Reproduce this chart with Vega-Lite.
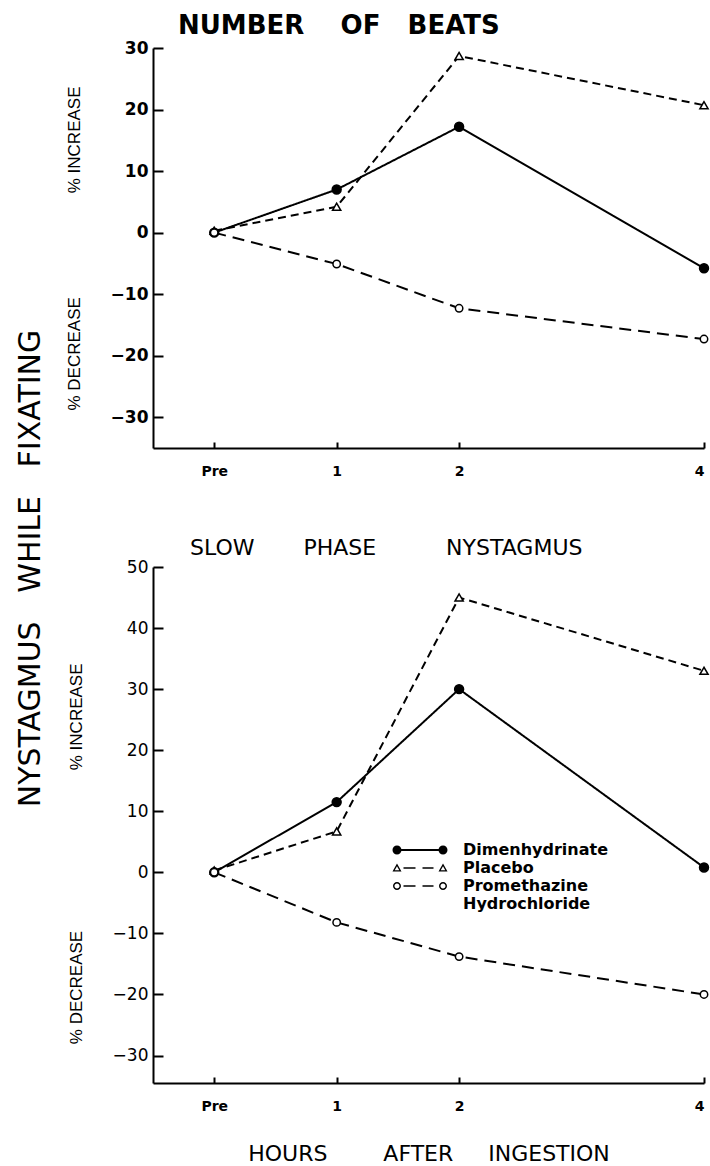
{
  "$schema": "https://vega.github.io/schema/vega-lite/v6.json",
  "background": "white",
  "padding": {"left": 16, "top": 13, "right": 2, "bottom": 2},
  "title": {"text": "NYSTAGMUS\u00a0\u00a0 WHILE\u00a0\u00a0 FIXATING", "orient": "left", "anchor": "middle", "dx": 20, "fontSize": 30, "font": "DejaVu Sans", "fontWeight": "normal", "offset": 19, "color": "black"},
  "config": {
    "view": {"stroke": null},
    "axis": {"grid": false, "domainColor": "black", "domainWidth": 2, "tickColor": "black", "tickWidth": 2, "labelColor": "black", "titleColor": "black", "labelFont": "DejaVu Sans", "titleFont": "DejaVu Sans"},
    "title": {"color": "black", "font": "DejaVu Sans"}
  },
  "datasets": {
    "beats": [
      {"drug": "Dimenhydrinate", "hour": 0, "pct": 0},
      {"drug": "Dimenhydrinate", "hour": 1, "pct": 7.0},
      {"drug": "Dimenhydrinate", "hour": 2, "pct": 17.2},
      {"drug": "Dimenhydrinate", "hour": 4, "pct": -5.8},
      {"drug": "Placebo", "hour": 0, "pct": 0.3},
      {"drug": "Placebo", "hour": 1, "pct": 4.2},
      {"drug": "Placebo", "hour": 2, "pct": 28.7},
      {"drug": "Placebo", "hour": 4, "pct": 20.7},
      {"drug": "Promethazine Hydrochloride", "hour": 0, "pct": 0},
      {"drug": "Promethazine Hydrochloride", "hour": 1, "pct": -5.1},
      {"drug": "Promethazine Hydrochloride", "hour": 2, "pct": -12.3},
      {"drug": "Promethazine Hydrochloride", "hour": 4, "pct": -17.3}
    ],
    "slow": [
      {"drug": "Dimenhydrinate", "hour": 0, "pct": 0},
      {"drug": "Dimenhydrinate", "hour": 1, "pct": 11.5},
      {"drug": "Dimenhydrinate", "hour": 2, "pct": 30.0},
      {"drug": "Dimenhydrinate", "hour": 4, "pct": 0.8},
      {"drug": "Placebo", "hour": 0, "pct": 0.3},
      {"drug": "Placebo", "hour": 1, "pct": 6.7},
      {"drug": "Placebo", "hour": 2, "pct": 45.0},
      {"drug": "Placebo", "hour": 4, "pct": 33.0},
      {"drug": "Promethazine Hydrochloride", "hour": 0, "pct": 0},
      {"drug": "Promethazine Hydrochloride", "hour": 1, "pct": -8.2},
      {"drug": "Promethazine Hydrochloride", "hour": 2, "pct": -13.8},
      {"drug": "Promethazine Hydrochloride", "hour": 4, "pct": -20.0}
    ]
  },
  "resolve": {"scale": {"x": "independent", "y": "independent", "shape": "independent", "fill": "independent", "strokeDash": "independent", "size": "independent"}},
  "spacing": 59,
  "vconcat": [
    {
      "width": 551,
      "height": 400,
      "data": {"name": "beats"},
      "title": {"text": "NUMBER\u00a0\u00a0\u00a0\u00a0OF\u00a0\u00a0\u00a0BEATS", "anchor": "start", "frame": "group", "dx": 25, "fontSize": 26, "fontWeight": "bold", "offset": 0},
      "encoding": {
        "x": {"field": "hour", "type": "quantitative", "scale": {"domain": [-0.5, 4], "nice": false, "zero": false},
          "axis": {"values": [0, 1, 2, 4], "labelExpr": "datum.value == 0 ? 'Pre' : datum.label", "title": null, "tickSize": -6, "labelPadding": 22, "labelFontSize": 14, "labelFontWeight": "bold"}},
        "y": {"field": "pct", "type": "quantitative", "scale": {"domain": [-35, 30], "nice": false, "zero": false},
          "axis": {"values": [-30, -20, -10, 0, 10, 20, 30], "tickSize": -10, "labelPadding": 15, "labelFontSize": 17, "labelFontWeight": "bold",
            "title": "% DECREASE\u00a0\u00a0\u00a0\u00a0\u00a0\u00a0\u00a0\u00a0\u00a0\u00a0\u00a0\u00a0\u00a0\u00a0\u00a0\u00a0\u00a0\u00a0\u00a0\u00a0\u00a0\u00a0% INCREASE",
            "titleFont": "Liberation Sans", "titleFontSize": 17, "titleFontWeight": "normal", "titlePadding": 27}}
      },
      "layer": [
        {"mark": {"type": "line", "color": "black", "strokeWidth": 2},
          "encoding": {"strokeDash": {"field": "drug", "type": "nominal", "scale": {"domain": ["Dimenhydrinate", "Placebo", "Promethazine Hydrochloride"], "range": [[1, 0], [8, 5], [12, 7]]}, "legend": null}}},
        {"mark": {"type": "point", "stroke": "black", "strokeWidth": 1.5, "opacity": 1},
          "encoding": {
            "shape": {"field": "drug", "type": "nominal", "scale": {"domain": ["Dimenhydrinate", "Placebo", "Promethazine Hydrochloride"], "range": ["circle", "triangle-up", "circle"]}, "legend": null},
            "fill": {"field": "drug", "type": "nominal", "scale": {"domain": ["Dimenhydrinate", "Placebo", "Promethazine Hydrochloride"], "range": ["black", "white", "white"]}, "legend": null},
            "size": {"field": "drug", "type": "nominal", "scale": {"domain": ["Dimenhydrinate", "Placebo", "Promethazine Hydrochloride"], "range": [80, 55, 55]}, "legend": null}
          }}
      ]
    },
    {
      "width": 551,
      "height": 516,
      "data": {"name": "slow"},
      "title": {"text": "SLOW\u00a0\u00a0\u00a0\u00a0\u00a0\u00a0\u00a0PHASE\u00a0\u00a0\u00a0\u00a0\u00a0\u00a0\u00a0\u00a0\u00a0\u00a0NYSTAGMUS", "anchor": "start", "frame": "group", "dx": 37, "fontSize": 22, "fontWeight": "normal", "offset": -2},
      "resolve": {"scale": {"shape": "independent"}},
      "encoding": {
        "x": {"field": "hour", "type": "quantitative", "scale": {"domain": [-0.5, 4], "nice": false, "zero": false},
          "axis": {"values": [0, 1, 2, 4], "labelExpr": "datum.value == 0 ? 'Pre' : datum.label", "title": "HOURS\u00a0\u00a0\u00a0\u00a0\u00a0\u00a0\u00a0\u00a0AFTER\u00a0\u00a0\u00a0\u00a0\u00a0INGESTION", "titleFontSize": 22, "titleFontWeight": "normal", "titlePadding": 30, "tickSize": -6, "labelPadding": 22, "labelFontSize": 14, "labelFontWeight": "bold"}},
        "y": {"field": "pct", "type": "quantitative", "scale": {"domain": [-34.5, 50], "nice": false, "zero": false},
          "axis": {"values": [-30, -20, -10, 0, 10, 20, 30, 40, 50], "tickSize": -10, "labelPadding": 15, "labelFontSize": 17, "labelFontWeight": "normal",
            "title": "% DECREASE\u00a0\u00a0\u00a0\u00a0\u00a0\u00a0\u00a0\u00a0\u00a0\u00a0\u00a0\u00a0\u00a0\u00a0\u00a0\u00a0\u00a0\u00a0\u00a0\u00a0\u00a0\u00a0\u00a0\u00a0\u00a0\u00a0\u00a0\u00a0\u00a0\u00a0\u00a0\u00a0\u00a0\u00a0% INCREASE\u00a0\u00a0\u00a0\u00a0\u00a0\u00a0\u00a0\u00a0\u00a0\u00a0\u00a0\u00a0\u200b",
            "titleFont": "Liberation Sans", "titleFontSize": 17, "titleFontWeight": "normal", "titlePadding": 27}}
      },
      "layer": [
        {"mark": {"type": "line", "color": "black", "strokeWidth": 2},
          "encoding": {"strokeDash": {"field": "drug", "type": "nominal", "scale": {"domain": ["Dimenhydrinate", "Placebo", "Promethazine Hydrochloride"], "range": [[1, 0], [8, 5], [12, 7]]}, "legend": null}}},
        {"mark": {"type": "point", "stroke": "black", "strokeWidth": 1.5, "opacity": 1},
          "encoding": {
            "shape": {"field": "drug", "type": "nominal", "scale": {"domain": ["Dimenhydrinate", "Placebo", "Promethazine Hydrochloride"], "range": ["circle", "triangle-up", "circle"]}, "legend": null},
            "fill": {"field": "drug", "type": "nominal", "scale": {"domain": ["Dimenhydrinate", "Placebo", "Promethazine Hydrochloride"], "range": ["black", "white", "white"]}, "legend": null},
            "size": {"field": "drug", "type": "nominal", "scale": {"domain": ["Dimenhydrinate", "Placebo", "Promethazine Hydrochloride"], "range": [80, 55, 55]}, "legend": null}
          }},
        {"transform": [{"filter": "false"}],
          "mark": {"type": "point", "filled": true, "color": "black", "strokeWidth": 0, "size": 324, "opacity": 1},
          "encoding": {
            "shape": {"field": "drug", "type": "nominal",
              "scale": {"domain": ["Dimenhydrinate", "Placebo", "Promethazine Hydrochloride"],
                "range": [
                  "M-3.056,0A0.5,0.5,0,1,1,-2.056,0A0.5,0.5,0,1,1,-3.056,0Z M2.056,0A0.5,0.5,0,1,1,3.056,0A0.5,0.5,0,1,1,2.056,0Z M-2.556,-0.1L2.556,-0.1L2.556,0.1L-2.556,0.1Z",
                  "M-2.556,-0.5L-2.056,0.39L-3.056,0.39Z M-2.556,-0.19L-2.806,0.25L-2.306,0.25Z M2.556,-0.5L3.056,0.39L2.056,0.39Z M2.556,-0.19L2.306,0.25L2.806,0.25Z M-1.833,-0.09L-0.5,-0.09L-0.5,0.09L-1.833,0.09Z M0.278,-0.09L1.5,-0.09L1.5,0.09L0.278,0.09Z",
                  "M-3,0A0.444,0.444,0,1,1,-2.112,0A0.444,0.444,0,1,1,-3,0Z M-2.836,0A0.28,0.28,0,1,0,-2.276,0A0.28,0.28,0,1,0,-2.836,0Z M2.112,0A0.444,0.444,0,1,1,3,0A0.444,0.444,0,1,1,2.112,0Z M2.276,0A0.28,0.28,0,1,0,2.836,0A0.28,0.28,0,1,0,2.276,0Z M-1.833,-0.09L-0.5,-0.09L-0.5,0.09L-1.833,0.09Z M0.278,-0.09L1.5,-0.09L1.5,0.09L0.278,0.09Z"
                ]},
              "legend": {"orient": "none", "legendX": 258, "legendY": 274, "title": null, "symbolSize": 324, "symbolFillColor": "black", "symbolStrokeColor": "black", "symbolStrokeWidth": 0, "symbolOpacity": 1, "labelOffset": 34, "labelFont": "DejaVu Sans", "labelFontSize": 16, "labelFontWeight": "bold", "labelColor": "black", "rowPadding": 1, "padding": 0, "labelLimit": 300,
                "labelExpr": "datum.label == 'Promethazine Hydrochloride' ? ['Promethazine', '\u00a0\u00a0\u00a0Hydrochloride'] : datum.label"}}
          }}
      ]
    }
  ]
}
